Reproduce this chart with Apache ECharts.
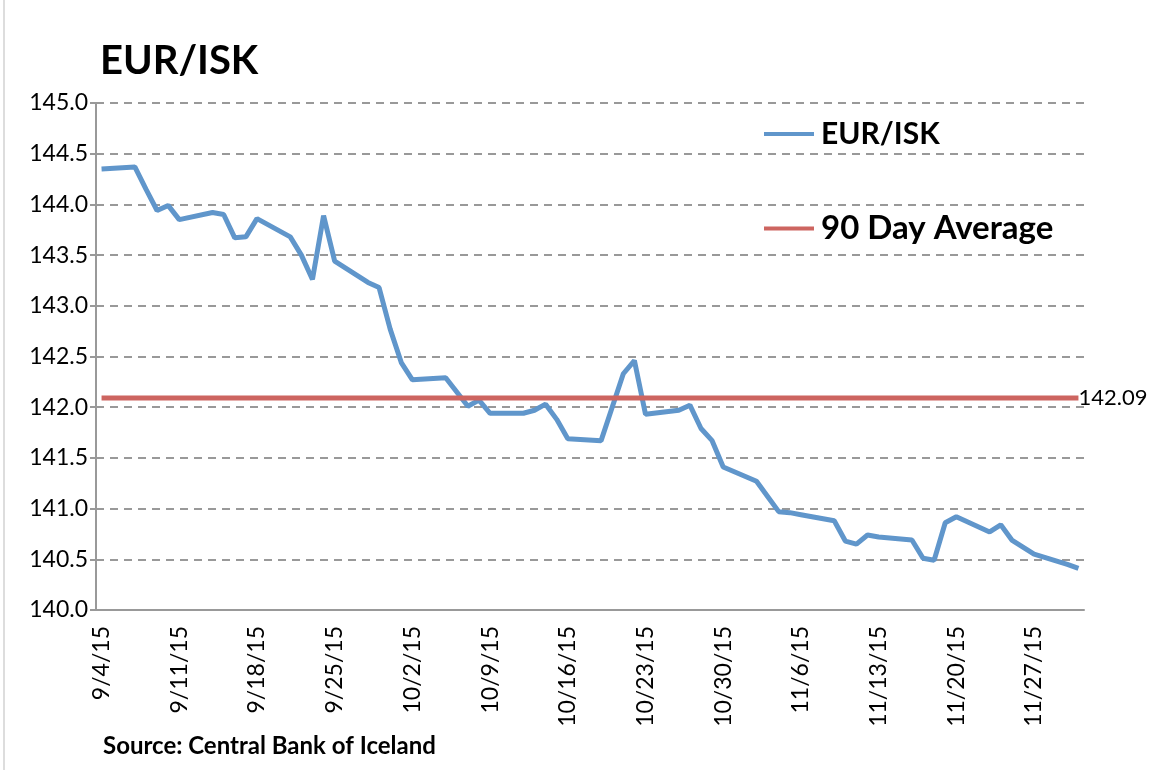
<!DOCTYPE html>
<html>
<head>
<meta charset="utf-8">
<script src="https://cdn.jsdelivr.net/npm/echarts@6/dist/echarts.min.js"></script>
<style>
  html, body { margin: 0; padding: 0; background: #fff; }
  #chart { width: 1154px; height: 770px; }
</style>
</head>
<body>
<div id="chart"></div>
<script>
  // trading days (M/D/15) and the EUR/ISK rate on each
  var tradeDates = [
    '9/4/15', '9/7/15', '9/8/15', '9/9/15', '9/10/15', '9/11/15',
    '9/14/15', '9/15/15', '9/16/15', '9/17/15', '9/18/15',
    '9/21/15', '9/22/15', '9/23/15', '9/24/15', '9/25/15',
    '9/28/15', '9/29/15', '9/30/15', '10/1/15', '10/2/15',
    '10/5/15', '10/6/15', '10/7/15', '10/8/15', '10/9/15',
    '10/12/15', '10/13/15', '10/14/15', '10/15/15', '10/16/15',
    '10/19/15', '10/20/15', '10/21/15', '10/22/15', '10/23/15',
    '10/26/15', '10/27/15', '10/28/15', '10/29/15', '10/30/15',
    '11/2/15', '11/3/15', '11/4/15', '11/5/15', '11/6/15',
    '11/9/15', '11/10/15', '11/11/15', '11/12/15', '11/13/15',
    '11/16/15', '11/17/15', '11/18/15', '11/19/15', '11/20/15',
    '11/23/15', '11/24/15', '11/25/15', '11/26/15', '11/27/15',
    '11/30/15', '12/1/15'
  ];
  var rates = [
    144.35, 144.37, 144.15, 143.94, 143.99, 143.85,
    143.92, 143.90, 143.67, 143.68, 143.86,
    143.68, 143.50, 143.26, 143.89, 143.44,
    143.23, 143.18, 142.77, 142.44, 142.27,
    142.29, 142.15, 142.01, 142.07, 141.94,
    141.94, 141.97, 142.03, 141.88, 141.69,
    141.67, 142.00, 142.33, 142.46, 141.93,
    141.97, 142.02, 141.79, 141.67, 141.41,
    141.27, 141.12, 140.97, 140.96, 140.94,
    140.88, 140.68, 140.65, 140.74, 140.72,
    140.69, 140.51, 140.49, 140.86, 140.92,
    140.77, 140.84, 140.69, 140.62, 140.55,
    140.45, 140.41
  ];
  var avgValue = 142.09;
  var yTicks = [140.0, 140.5, 141.0, 141.5, 142.0, 142.5, 143.0, 143.5, 144.0, 144.5, 145.0];

  // calendar-day axis like Excel's date axis (weekends are empty slots)
  var days = [];
  var d = new Date(2015, 8, 4);
  var end = new Date(2015, 11, 1);
  while (d <= end) {
    days.push((d.getMonth() + 1) + '/' + d.getDate() + '/15');
    d.setDate(d.getDate() + 1);
  }
  var rateSeries = days.map(function (day) {
    var i = tradeDates.indexOf(day);
    return i >= 0 ? rates[i] : null;
  });
  var avgSeries = days.map(function () { return avgValue; });

  var font = 'Lato, "Open Sans", sans-serif';
  var myChart = echarts.init(document.getElementById('chart'));
  var option = {
    animation: false,
    textStyle: { fontFamily: font },
    title: [
      {
        text: 'EUR/ISK',
        left: 95, top: 36,
        textStyle: { fontSize: 40, fontWeight: 'bold', color: '#000', fontFamily: font }
      },
      {
        text: 'Source: Central Bank of Iceland',
        left: 98, top: 729,
        textStyle: { fontSize: 24, fontWeight: 'bold', color: '#000', fontFamily: font }
      }
    ],
    legend: [
      {
        data: ['EUR/ISK'],
        left: 759, top: 114,
        icon: 'rect', itemWidth: 50, itemHeight: 4, itemGap: 0,
        textStyle: { fontSize: 30, fontWeight: 'bold', color: '#000', fontFamily: font, padding: [0, 0, 0, 2] }
      },
      {
        data: ['90 Day Average'],
        left: 759, top: 207,
        icon: 'rect', itemWidth: 50, itemHeight: 4, itemGap: 0,
        textStyle: { fontSize: 33, fontWeight: 'bold', color: '#000', fontFamily: font, padding: [0, 0, 0, 2] }
      }
    ],
    graphic: [
      { type: 'line', shape: { x1: 4, y1: 0, x2: 4, y2: 770 }, style: { stroke: '#bbb', lineWidth: 1 } }
    ],
    grid: { left: 96, right: 70, top: 103, bottom: 160 },
    xAxis: {
      type: 'category',
      data: days,
      boundaryGap: true,
      axisLine: { lineStyle: { color: '#999', width: 2 } },
      axisTick: { show: false },
      axisLabel: {
        interval: 6,
        rotate: 90,
        margin: 16,
        fontSize: 23,
        color: '#000',
        fontFamily: font
      }
    },
    yAxis: {
      type: 'value',
      min: yTicks[0],
      max: yTicks[yTicks.length - 1],
      interval: 0.5,
      axisLine: { show: true, lineStyle: { color: '#999', width: 2 } },
      axisTick: { show: true, length: 6, lineStyle: { color: '#999', width: 2 } },
      axisLabel: {
        margin: 8,
        fontSize: 23,
        color: '#000',
        fontFamily: font,
        formatter: function (v) { return v.toFixed(1); }
      },
      splitLine: { show: true, lineStyle: { color: '#999', width: 2, type: [8, 6] } }
    },
    series: [
      {
        name: 'EUR/ISK',
        type: 'line',
        data: rateSeries,
        connectNulls: true,
        showSymbol: false,
        color: '#6096CB',
        lineStyle: { color: '#6096CB', width: 5 }
      },
      {
        name: '90 Day Average',
        type: 'line',
        data: avgSeries,
        showSymbol: false,
        color: '#CD6560',
        lineStyle: { color: '#CD6560', width: 5 },
        endLabel: {
          show: true,
          distance: 0,
          formatter: function (p) { return p.value.toFixed(2); },
          fontSize: 22,
          color: '#000',
          fontFamily: font
        }
      }
    ]
  };
  myChart.setOption(option);
</script>
</body>
</html>
